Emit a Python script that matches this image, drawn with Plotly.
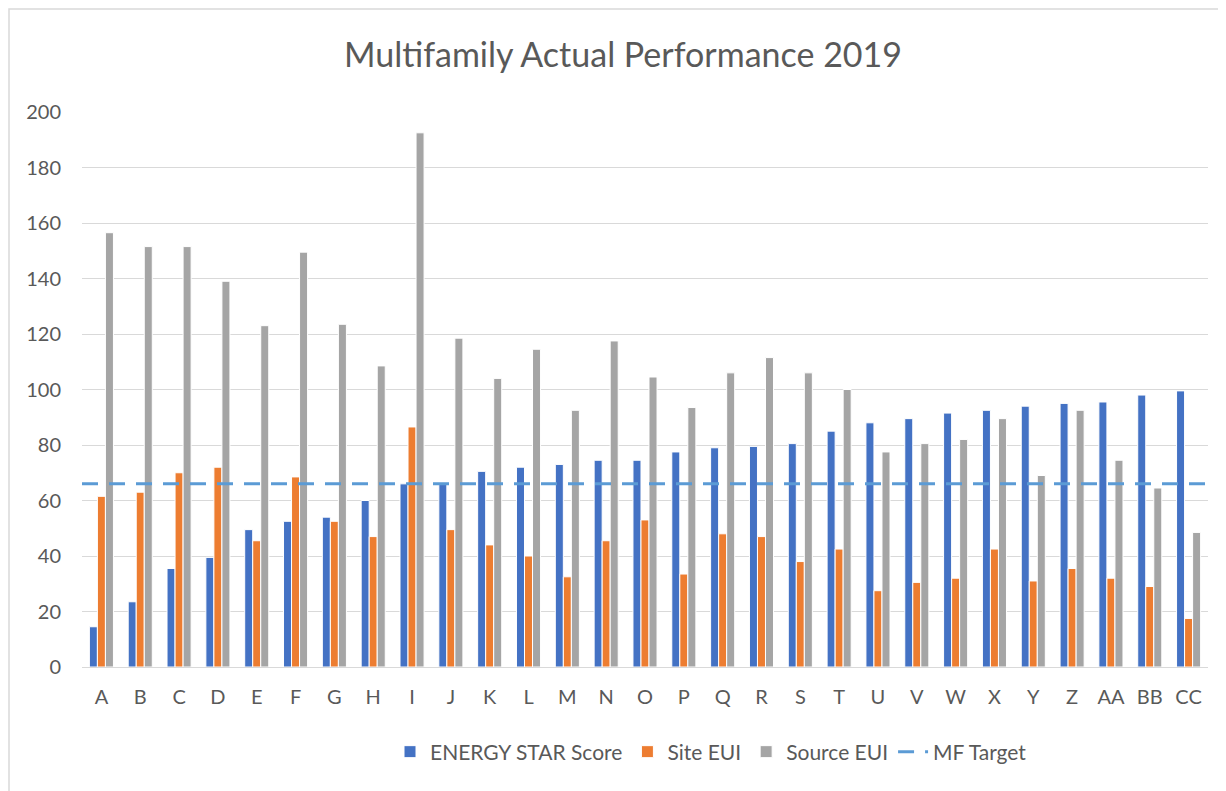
import plotly.graph_objs as go

buildings = ['A', 'B', 'C', 'D', 'E', 'F', 'G', 'H', 'I', 'J', 'K', 'L', 'M', 'N', 'O',
             'P', 'Q', 'R', 'S', 'T', 'U', 'V', 'W', 'X', 'Y', 'Z', 'AA', 'BB', 'CC']
energy_star = [14.5, 23.5, 35.5, 39.5, 49.5, 52.5, 54, 60, 66, 66, 70.5, 72, 73, 74.5, 74.5,
               77.5, 79, 79.5, 80.5, 85, 88, 89.5, 91.5, 92.5, 94, 95, 95.5, 98, 99.5]
site_eui = [61.5, 63, 70, 72, 45.5, 68.5, 52.5, 47, 86.5, 49.5, 44, 40, 32.5, 45.5, 53,
            33.5, 48, 47, 38, 42.5, 27.5, 30.5, 32, 42.5, 31, 35.5, 32, 29, 17.5]
source_eui = [156.5, 151.5, 151.5, 139, 123, 149.5, 123.5, 108.5, 192.5, 118.5, 104, 114.5, 92.5, 117.5, 104.5,
              93.5, 106, 111.5, 106, 100, 77.5, 80.5, 82, 89.5, 69, 92.5, 74.5, 64.5, 48.5]
mf_target = 66

FONT = 'Lato'
GREY_TEXT = '#595959'

# the page body has an 8px margin, so the figure is a bit smaller than the window
W, H = 1218, 783
OFF = 8
L, T = 82 - OFF, 112 - OFF          # plot area top-left inside the figure
PW, PH = 1126, 555                   # plot area size


def px_x(p):
    return (p - L) / PW


def px_y(p):
    return (T + PH - p) / PH


def main():
    fig = go.Figure()

    fig.add_trace(go.Bar(
        x=buildings, y=energy_star, name='ENERGY STAR Score',
        marker={'color': '#4472C4', 'line': {'color': 'white', 'width': 1}},
    ))
    fig.add_trace(go.Bar(
        x=buildings, y=site_eui, name='Site EUI',
        marker={'color': '#ED7D31', 'line': {'color': 'white', 'width': 1}},
    ))
    fig.add_trace(go.Bar(
        x=buildings, y=source_eui, name='Source EUI',
        marker={'color': '#A5A5A5', 'line': {'color': 'white', 'width': 1}},
    ))

    # target line spans the whole plot width, so put it on a hidden numeric axis
    n = len(buildings)
    fig.add_trace(go.Scatter(
        x=[-0.5, n - 0.5], y=[mf_target, mf_target],
        xaxis='x2', mode='lines', name='MF Target',
        line={'color': '#5B9BD5', 'width': 3, 'dash': '16px,11px'},
        hoverinfo='none',
    ))

    fig.update_layout(
        width=W,
        height=H,
        margin={'l': L, 'r': W - L - PW, 't': T, 'b': H - T - PH},
        paper_bgcolor='white',
        plot_bgcolor='white',
        font={'family': FONT, 'color': GREY_TEXT},
        title={
            'text': 'Multifamily Actual Performance 2019',
            'x': (623 - OFF) / W, 'xanchor': 'center',
            'y': 1 - (55 - OFF) / H, 'yanchor': 'middle',
            'font': {'size': 34, 'color': GREY_TEXT, 'family': FONT},
        },
        barmode='group',
        bargap=0.38,
        bargroupgap=0,
        xaxis={
            'type': 'category',
            'showgrid': False,
            'showline': False,
            'ticks': '',
            'tickfont': {'size': 20, 'color': GREY_TEXT},
            'ticklabelstandoff': 16,
        },
        xaxis2={
            'overlaying': 'x',
            'range': [-0.5, n - 0.5],
            'visible': False,
        },
        yaxis={
            'range': [0, 200],
            'dtick': 20,
            'showgrid': True,
            'gridcolor': '#D9D9D9',
            'gridwidth': 1,
            'zeroline': True,
            'zerolinecolor': '#D9D9D9',
            'zerolinewidth': 1,
            'ticks': '',
            'tickfont': {'size': 20, 'color': GREY_TEXT},
            'ticklabelstandoff': 20,
        },
        legend={
            'orientation': 'h',
            'x': px_x(711 - OFF), 'xanchor': 'center',
            'y': px_y(752 - OFF), 'yanchor': 'middle',
            'font': {'size': 21, 'color': GREY_TEXT},
            'itemwidth': 30,
            'traceorder': 'normal',
        },
        # chart border: only the left and top edges show in the picture
        shapes=[{
            'type': 'rect', 'xref': 'paper', 'yref': 'paper',
            'x0': px_x(1), 'x1': px_x(W + 20),
            'y0': px_y(H + 20), 'y1': px_y(1),
            'line': {'color': '#D9D9D9', 'width': 1.5},
            'layer': 'below',
        }],
    )

    fig.write_html('out.html')


if __name__ == '__main__':
    main()
